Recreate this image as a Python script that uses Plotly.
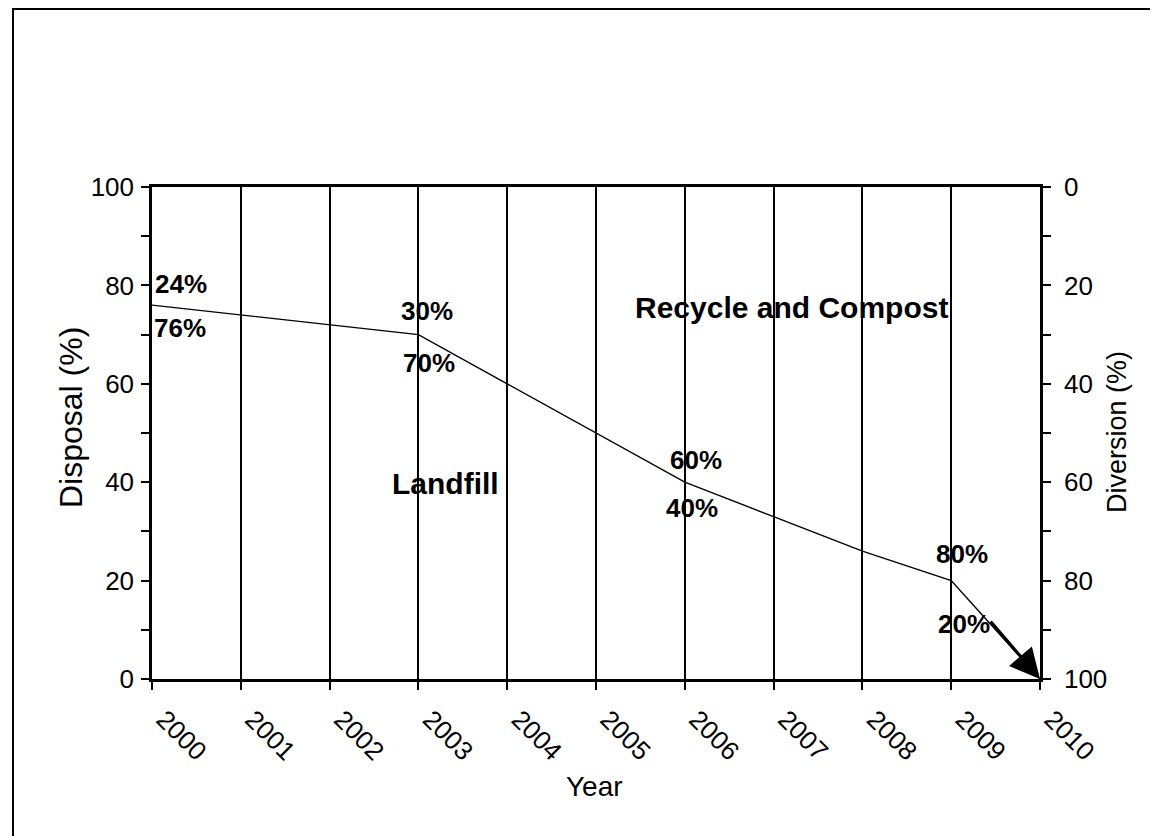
import plotly.graph_objects as go

# ---- data ----
years = [2000, 2001, 2002, 2003, 2004, 2005, 2006, 2007, 2008, 2009, 2010]
disposal = [76, 74, 72, 70, 60, 50, 40, 33, 26, 20, 0]
diversion = [100 - v for v in disposal]
year_labels = [str(y) for y in years]
labeled_years = [2000, 2003, 2006, 2009]
labeled_disposal = [76, 70, 40, 20]
labeled_diversion = [24, 30, 60, 80]
y_ticks = [0, 20, 40, 60, 80, 100]
region_names = ["Recycle and Compost", "Landfill"]

FONT = "Liberation Sans, Arial, sans-serif"

fig = go.Figure()
fig.add_trace(go.Scatter(x=years, y=disposal, mode="lines",
                         line=dict(color="black", width=1.4), hoverinfo="skip"))
fig.add_trace(go.Scatter(x=years, y=diversion, mode="lines", yaxis="y2",
                         line=dict(color="black", width=1.4), opacity=0, hoverinfo="skip"))

# percentage labels (pixel offsets relative to the data point)
above_shift = [(29, 21), (9, 24), (11, 22), (11, 27)]
below_shift = [(28, -23), (11, -28), (7, -26), (13, -43)]
for i, yr in enumerate(labeled_years):
    fig.add_annotation(x=yr, y=labeled_disposal[i], text=f"{labeled_diversion[i]}%",
                       showarrow=False, xshift=above_shift[i][0], yshift=above_shift[i][1],
                       font=dict(family=FONT, size=26, color="black", weight="bold"))
    fig.add_annotation(x=yr, y=labeled_disposal[i], text=f"{labeled_disposal[i]}%",
                       showarrow=False, xshift=below_shift[i][0], yshift=below_shift[i][1],
                       font=dict(family=FONT, size=26, color="black", weight="bold"))

# region labels
fig.add_annotation(x=2007.2, y=75.6, text=region_names[0], showarrow=False,
                   font=dict(family=FONT, size=30, color="black", weight="bold"))
fig.add_annotation(x=2003.3, y=39.8, text=region_names[1], showarrow=False,
                   font=dict(family=FONT, size=30, color="black", weight="bold"))

# arrow to 2010
fig.add_annotation(x=years[-1], y=disposal[-1], ax=2009.43, ay=12, axref="x", ayref="y",
                   xref="x", yref="y", showarrow=True, arrowhead=2, arrowwidth=3,
                   arrowsize=2.0, arrowcolor="black", text="")

# axis titles
fig.add_annotation(xref="paper", yref="paper", x=(71 - 152) / 888, y=(679 - 418) / 492,
                   xanchor="center", yanchor="middle",
                   text="Disposal (%)", textangle=-90, showarrow=False,
                   font=dict(family=FONT, size=32, color="black"))
fig.add_annotation(xref="paper", yref="paper", x=(1117 - 152) / 888, y=(679 - 432) / 492,
                   xanchor="center", yanchor="middle",
                   text="Diversion (%)", textangle=-90, showarrow=False,
                   font=dict(family=FONT, size=27, color="black"))
fig.add_annotation(xref="paper", yref="paper", x=(594 - 152) / 888, y=(679 - 786) / 492,
                   xanchor="center", yanchor="middle",
                   text="Year", showarrow=False,
                   font=dict(family=FONT, size=28, color="black"))

# outer frame
fig.add_shape(type="rect", xref="paper", yref="paper",
              x0=(13 - 152) / 888, x1=(1300 - 152) / 888,
              y0=(679 - 900) / 492, y1=(679 - 9) / 492,
              line=dict(color="black", width=2), fillcolor="rgba(0,0,0,0)", layer="below")

axis_common = dict(showline=True, linecolor="black", linewidth=2.5, zeroline=False,
                   ticks="outside", ticklen=8, tickwidth=2, tickcolor="black",
                   tickfont=dict(family=FONT, size=26, color="black"))

fig.update_layout(
    width=1158, height=836,
    margin=dict(l=144, r=126, t=179, b=165, autoexpand=False),
    plot_bgcolor="white", paper_bgcolor="white", showlegend=False,
    font=dict(family=FONT, color="black"),
    xaxis=dict(range=[2000, 2010], tickvals=years, ticktext=year_labels, tickangle=45,
               showgrid=True, gridcolor="black", gridwidth=2, mirror=True,
               ticklabelstandoff=4, ticklabelshift=12, **axis_common),
    yaxis=dict(range=[0, 100], tickvals=y_ticks, showgrid=False,
               minor=dict(dtick=10, tick0=0, ticks="outside", ticklen=8, tickwidth=2,
                          tickcolor="black", showgrid=False),
               ticklabelstandoff=2, **axis_common),
    yaxis2=dict(range=[100, 0], tickvals=y_ticks, overlaying="y", side="right", anchor="x",
                showgrid=False,
                minor=dict(dtick=10, tick0=0, ticks="outside", ticklen=8, tickwidth=2,
                           tickcolor="black", showgrid=False),
                ticklabelstandoff=8, **axis_common),
)

fig.write_html("out.html")
